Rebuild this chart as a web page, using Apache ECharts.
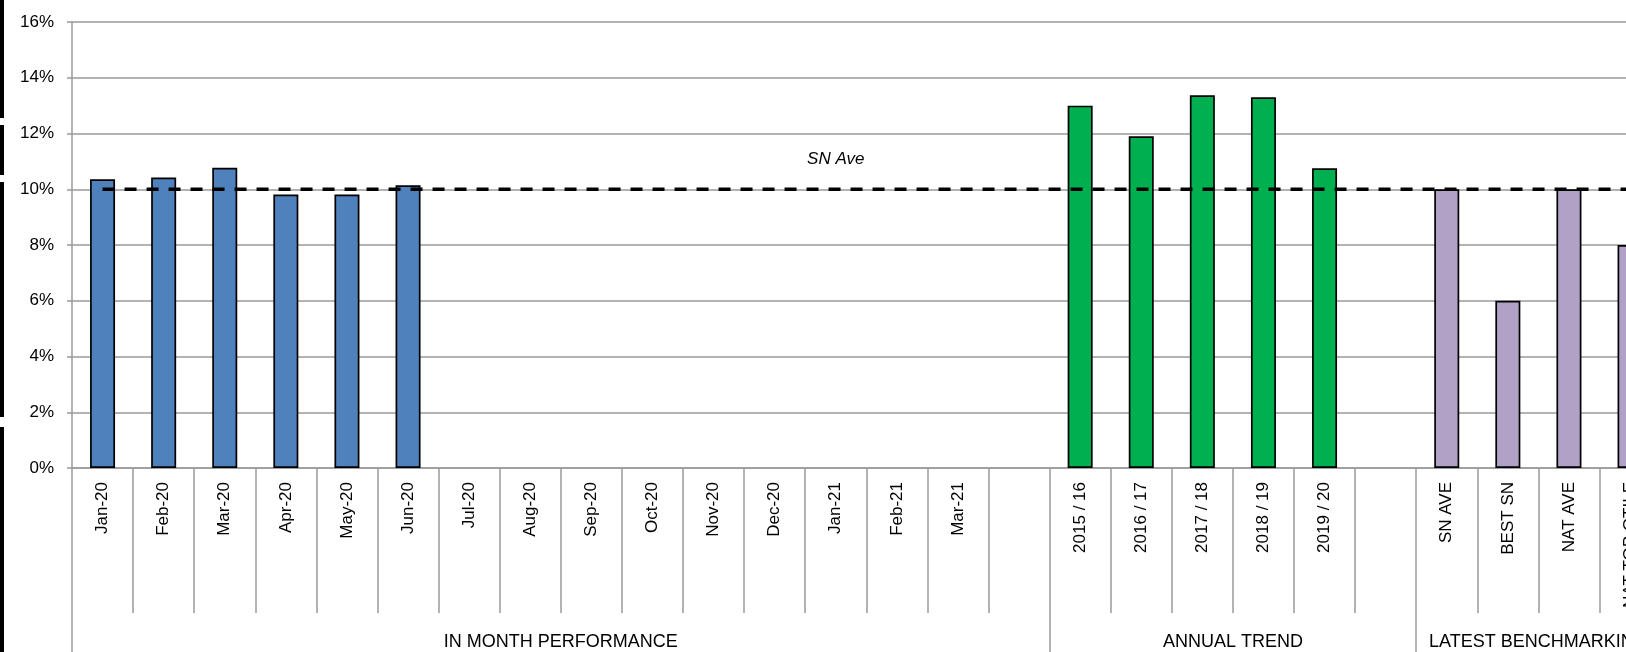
<!DOCTYPE html>
<html><head><meta charset="utf-8">
<script src="https://cdn.jsdelivr.net/npm/echarts@6/dist/echarts.min.js"></script>
<style>html,body{margin:0;padding:0;background:#fff;overflow:hidden}#c{width:1626px;height:652px}</style>
</head><body><div id="c"></div>
<script>
// ---- data ----
const monthLabels = ['Jan-20','Feb-20','Mar-20','Apr-20','May-20','Jun-20','Jul-20','Aug-20','Sep-20','Oct-20','Nov-20','Dec-20','Jan-21','Feb-21','Mar-21'];
const monthValues = [10.36, 10.42, 10.77, 9.81, 9.81, 10.14, null, null, null, null, null, null, null, null, null];
const annualLabels = ['2015 / 16','2016 / 17','2017 / 18','2018 / 19','2019 / 20'];
const annualValues = [13.0, 11.9, 13.37, 13.3, 10.75];
const benchLabels = ['SN AVE','BEST SN','NAT AVE','NAT TOP QTILE'];
const benchValues = [10.0, 6.0, 10.0, 8.0];
const snAveValues = [10,10,10,10,10,10,10,10,10,10,10,10,10,10,10,10,10,10,10,10,10,10,10,10,10,10];
const snAveLabel = 'SN Ave';
const snAveLabelIndex = 12;
const groupLabels = ['IN MONTH PERFORMANCE','ANNUAL TREND','LATEST BENCHMARKING'];
const yTicks = { min: 0, max: 16, interval: 2 };

// ---- build ----
const categories = [].concat(monthLabels, [' '], annualLabels, ['  '], benchLabels);
const nM = monthLabels.length, nA = annualLabels.length, nB = benchLabels.length;
const blanks = n => Array(n).fill(null);
const blueData = [].concat(monthValues, blanks(1 + nA + 1 + nB));
const greenData = [].concat(blanks(nM + 1), annualValues, blanks(1 + nB));
const purpleData = [].concat(blanks(nM + 1 + nA + 1), benchValues);
const groupStarts = [0, nM + 1, nM + 1 + nA + 1];
const groupEnds = [nM + 1, nM + 1 + nA + 1, nM + 1 + nA + 1 + nB];

const FONT = "'Liberation Sans', Arial, sans-serif";
const GRAY = '#9a9a9a';

const chart = echarts.init(document.getElementById('c'), null, { renderer: 'canvas' });
const barCommon = (color) => ({
  type: 'bar', stack: 'all', barWidth: 25,
  itemStyle: { color: color, borderColor: '#000', borderWidth: 1.7 },
  emphasis: { disabled: true }
});
const option = {
  animation: false,
  backgroundColor: '#fff',
  grid: { left: 72, top: 22, bottom: 184, width: 61.1 * categories.length, containLabel: false, outerBoundsMode: 'none' },
  xAxis: [{
    type: 'category', data: categories, boundaryGap: true, position: 'bottom',
    axisLine: { lineStyle: { color: GRAY, width: 1.5 } },
    axisTick: { show: true, interval: 0, length: 145, lineStyle: { color: GRAY, width: 1.5 } },
    axisLabel: { interval: 0, rotate: 90, margin: 14, fontSize: 17, color: '#000', fontFamily: FONT }
  }, {
    type: 'category', data: categories, boundaryGap: true, position: 'bottom',
    axisLine: { show: false },
    axisLabel: { show: false },
    axisTick: { show: true, length: 200, lineStyle: { color: GRAY, width: 1.5 },
      interval: function (i) { return groupStarts.indexOf(i) >= 0; } }
  }],
  yAxis: {
    type: 'value', min: yTicks.min, max: yTicks.max, interval: yTicks.interval,
    axisLine: { show: true, lineStyle: { color: GRAY, width: 1.5 } },
    axisTick: { show: true, length: 5, lineStyle: { color: GRAY, width: 1.5 } },
    axisLabel: { formatter: '{value}%', fontSize: 17, color: '#000', margin: 18, fontFamily: FONT },
    splitLine: { show: true, lineStyle: { color: GRAY, width: 1.5 } }
  },
  series: [
    Object.assign(barCommon('#4F81BD'), { name: 'Month', data: blueData }),
    Object.assign(barCommon('#00B050'), { name: 'Annual', data: greenData }),
    Object.assign(barCommon('#B2A1C7'), { name: 'Bench', data: purpleData }),
    {
      type: 'line', name: 'SN Ave', z: 5, xAxisIndex: 0,
      data: snAveValues,
      symbol: 'none', showSymbol: false,
      lineStyle: { color: '#000', width: 3.6, type: [12, 10], cap: 'butt' },
      emphasis: { disabled: true }
    }
  ]
};
chart.setOption(option);

// group labels, SN Ave label and left-edge marks
const c0 = chart.convertToPixel({ xAxisIndex: 0 }, 0);
const c1 = chart.convertToPixel({ xAxisIndex: 0 }, 1);
const band = c1 - c0;
const left = c0 - band / 2;
const graphics = groupLabels.map((t, k) => ({
  type: 'text', silent: true,
  x: left + band * (groupStarts[k] + groupEnds[k]) / 2, y: 642,
  style: { text: t, fontSize: 18, fill: '#000', fontFamily: FONT, align: 'center', verticalAlign: 'middle' }
}));
const lp = chart.convertToPixel({ xAxisIndex: 0, yAxisIndex: 0 }, [snAveLabelIndex, snAveValues[snAveLabelIndex]]);
graphics.push({
  type: 'text', silent: true, x: lp[0], y: lp[1] - 30, z: 10,
  style: { text: snAveLabel, fontSize: 17, fontStyle: 'italic', fill: '#000', fontFamily: FONT, align: 'center', verticalAlign: 'middle' }
});
[[0, 118], [125, 175], [182, 417], [427, 652]].forEach(s => {
  graphics.push({ type: 'rect', silent: true, shape: { x: 0, y: s[0], width: 4, height: s[1] - s[0] }, style: { fill: '#000' } });
});
chart.setOption({ graphic: graphics });
</script>
</body></html>
